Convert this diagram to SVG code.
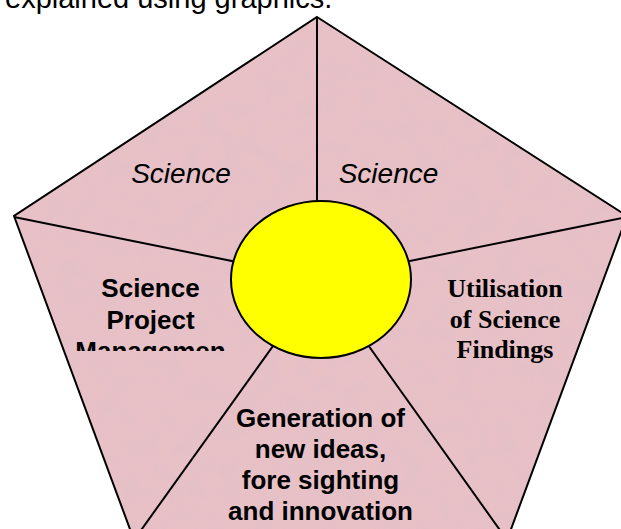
<svg xmlns="http://www.w3.org/2000/svg" width="621" height="529" viewBox="0 0 621 529">
  <style>
    .outline { fill: none; stroke: #000; stroke-width: 2; stroke-linejoin: miter; }
    .spoke { stroke: #000; stroke-width: 2; }
    .sans-b { font-family: "Liberation Sans", Arial, sans-serif; font-weight: bold; font-size: 26px; text-anchor: middle; fill: #000; }
    .serif-b { font-family: "Liberation Serif", "Times New Roman", serif; font-weight: bold; font-size: 26px; text-anchor: middle; fill: #000; }
    .sans-i { font-family: "Liberation Sans", Arial, sans-serif; font-style: italic; font-size: 28px; text-anchor: middle; fill: #000; }
    .title { font-family: "Liberation Sans", Arial, sans-serif; font-size: 29px; fill: #000; }
  </style>
  <defs>
    <!-- mottled granite-like texture for the pentagon fill -->
    <filter id="grain" x="0" y="0" width="100%" height="100%">
      <feTurbulence type="fractalNoise" baseFrequency="0.05" numOctaves="4" seed="7" result="noise"/>
      <feColorMatrix in="noise" type="matrix"
        values="0 0 0 0 0.72
                0 0 0 0 0.52
                0 0 0 0 0.57
                1.4 0 0 0 -0.55" result="tint"/>
      <feComposite in="tint" in2="SourceGraphic" operator="in"/>
    </filter>
    <clipPath id="leftBox">
      <rect x="40" y="260" width="230" height="91"/>
    </clipPath>
  </defs>

  <rect width="621" height="529" fill="#fff"/>

  <!-- heading line, cut by the top edge -->
  <text class="title" x="5" y="8">explained using graphics.</text>

  <!-- pentagon body -->
  <g id="pentagon">
    <polygon points="317,17 627,216 507,540 134,540 14,216" fill="#e8c1c7"/>
    <polygon points="317,17 627,216 507,540 134,540 14,216" fill="#e8c1c7" filter="url(#grain)" opacity="0.6"/>
    <polygon class="outline" points="317,17 627,216 507,540 134,540 14,216"/>
  </g>

  <!-- spokes from each corner to the hub -->
  <g id="connectors">
    <line class="spoke" x1="317" y1="17" x2="317" y2="260"/>
    <line class="spoke" x1="14" y1="217" x2="321" y2="279"/>
    <line class="spoke" x1="627" y1="217" x2="321" y2="279"/>
    <line class="spoke" x1="134" y1="540" x2="321" y2="279"/>
    <line class="spoke" x1="507" y1="540" x2="321" y2="279"/>
  </g>

  <g id="hub">
    <ellipse cx="321" cy="279.5" rx="90" ry="78.5" fill="#ffff00" stroke="#000" stroke-width="2"/>
  </g>

  <g id="science-left">
    <text class="sans-i" x="181" y="183">Science</text>
  </g>

  <g id="science-right">
    <text class="sans-i" x="388.5" y="183">Science</text>
  </g>

  <g id="project-management">
    <g clip-path="url(#leftBox)">
      <text class="sans-b" x="150.5" y="297">Science</text>
      <text class="sans-b" x="150.5" y="328.5">Project</text>
      <text class="sans-b" x="150.5" y="360">Managemen</text>
    </g>
  </g>

  <g id="utilisation">
    <text class="serif-b" x="505" y="297">Utilisation</text>
    <text class="serif-b" x="505" y="328">of Science</text>
    <text class="serif-b" x="505" y="358">Findings</text>
  </g>

  <g id="generation">
    <text class="sans-b" x="320.5" y="427">Generation of</text>
    <text class="sans-b" x="320.5" y="458">new ideas,</text>
    <text class="sans-b" x="320.5" y="489">fore sighting</text>
    <text class="sans-b" x="320.5" y="520">and innovation</text>
  </g>
</svg>
